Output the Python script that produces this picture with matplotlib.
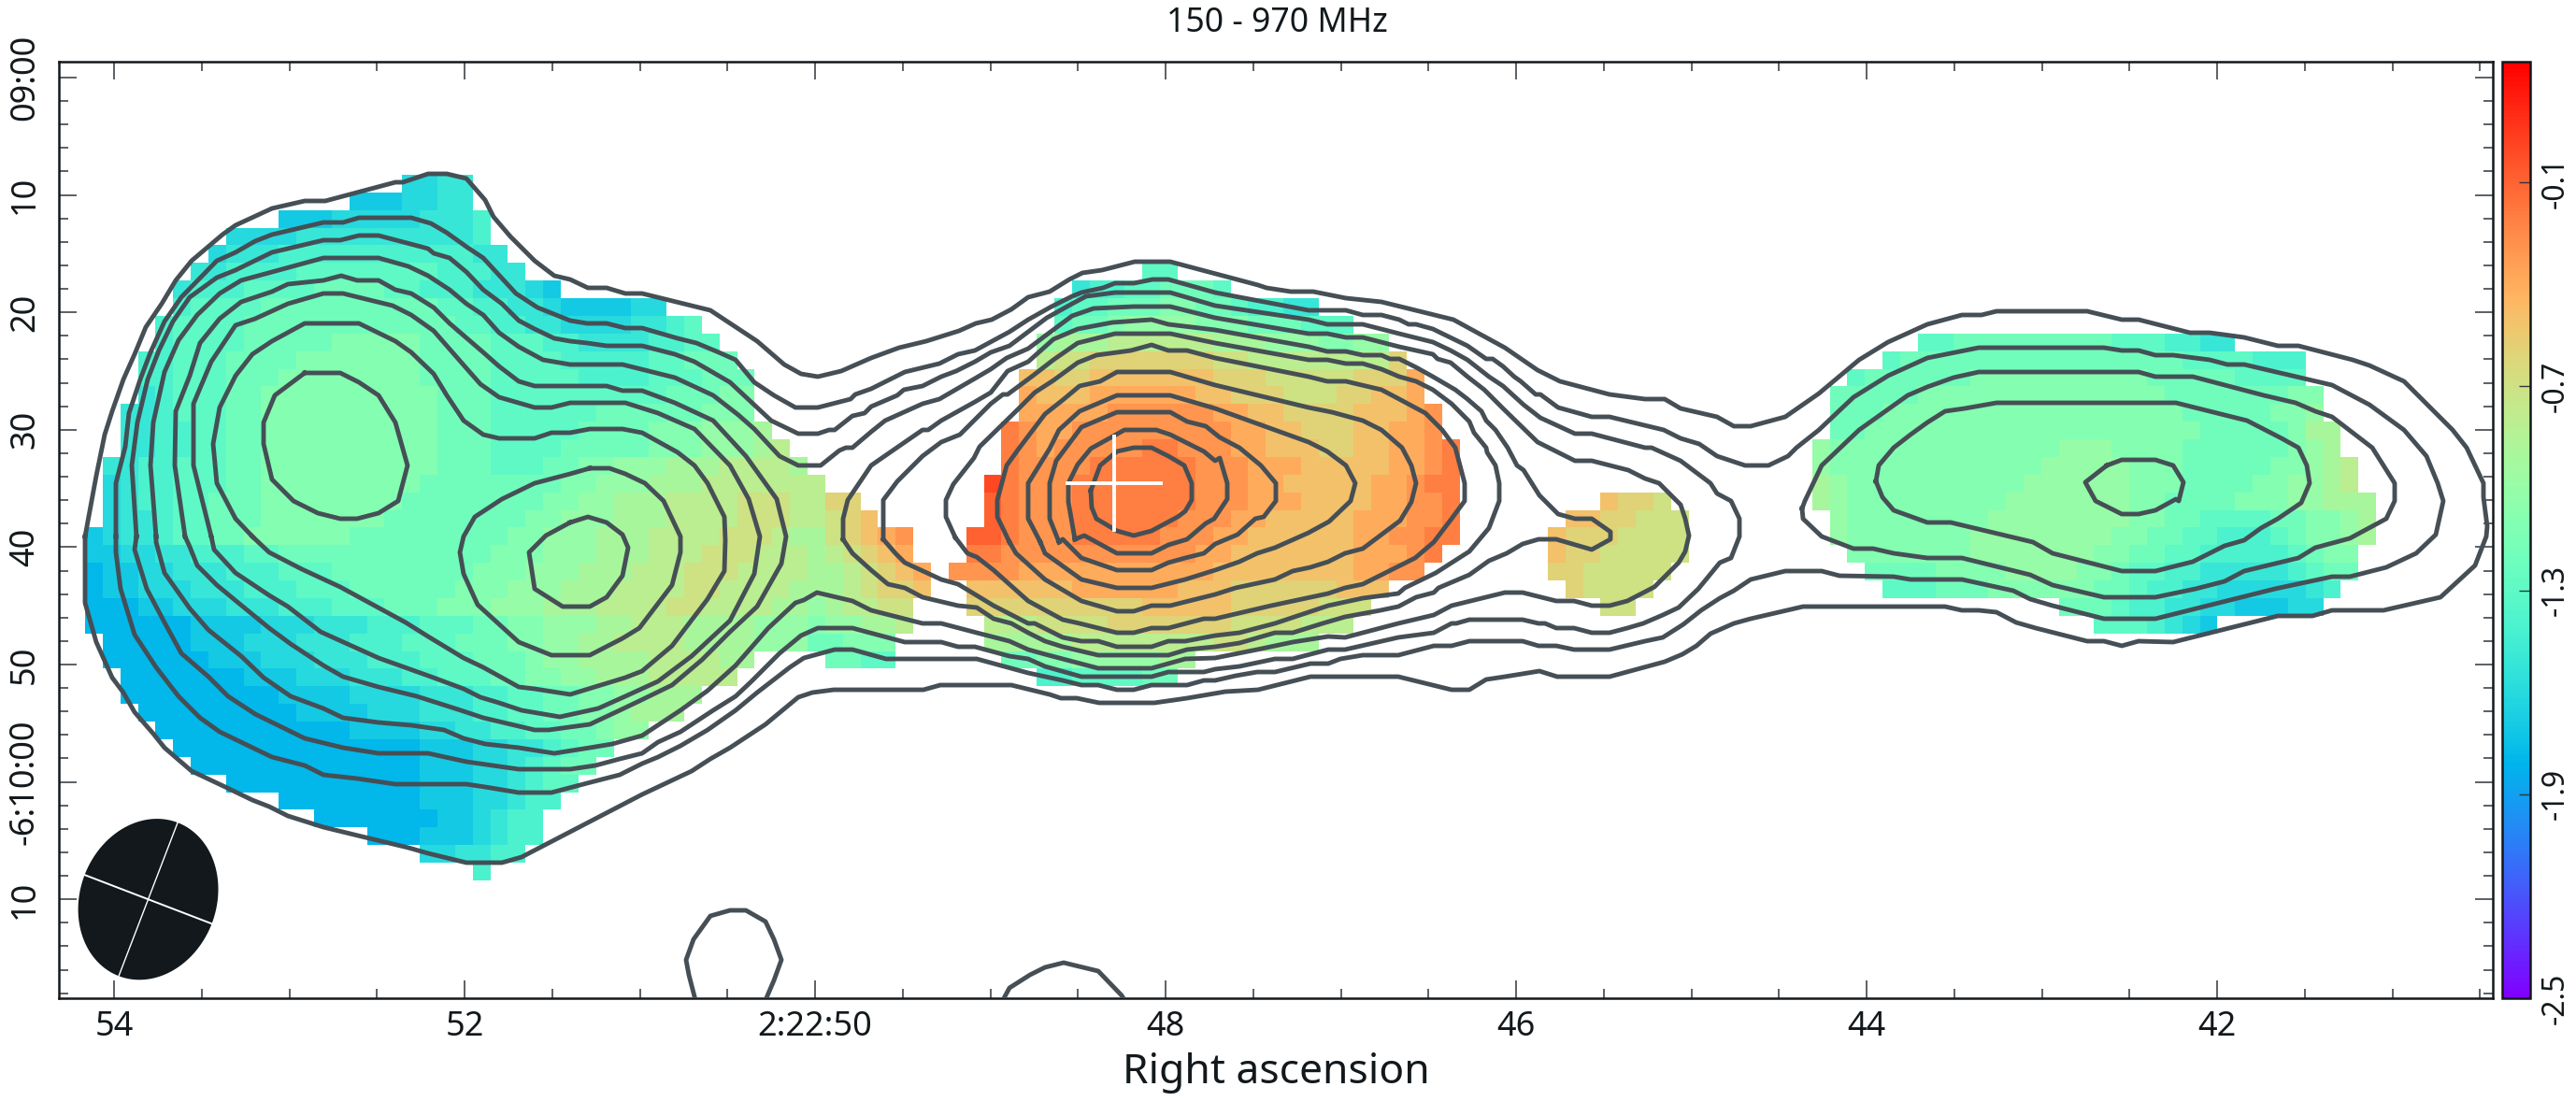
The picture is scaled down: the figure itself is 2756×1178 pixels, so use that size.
import matplotlib
matplotlib.use('Agg')
import matplotlib.pyplot as plt
from matplotlib.ticker import MultipleLocator, FixedLocator, FixedFormatter
import numpy as np

plt.rcParams['font.family'] = ['Noto Sans', 'DejaVu Sans']

# spectral index cells, one letter per cell: a = -1.8 ... s = 0.0, steps of 0.1
index_letters = 'abcdefghijklmnopqrs'
index_start = -1.8
index_step = 0.1

# (row, first column, letters)
left_lobe = [
    (0, 18, 'ccdd'),
    (1, 15, 'bbbccdd'),
    (2, 11, 'bbbcccccddde'),
    (3, 8, 'ccccdddddddddde'),
    (4, 7, 'cdddeeeeeeeeeeedd'),
    (5, 6, 'ddeeeeffffffffeeedd'),
    (6, 5, 'deeeffffggggffeeedddcb'),
    (7, 5, 'effffggggggggggffeeddcbbbbcc'),
    (8, 4, 'effffggggggggggggffeeddccccddef'),
    (9, 4, 'effffggggghhhhhggggfffeeddddeeff'),
    (10, 3, 'eefffgggghhhhhhhggggffffeeeeeffggg'),
    (11, 3, 'eefffggghhhhhhhhggggfffffeeeefffggg'),
    (12, 3, 'defffgghhhhhhhhhhgggffffffffffggghh'),
    (13, 2, 'ddefffgghhhhhhhhhhgggffffffgggggghhh'),
    (14, 2, 'ddeeffgghhhhhhhhhhgggfffffgggghhhiiij'),
    (15, 2, 'ddeeffgghhhhhhhhhhgggffffggggghhhiiijk'),
    (16, 1, 'ddeefffgghhhhhhhhhhgggfffgghhiiijjjkkkkj'),
    (17, 1, 'cdeefffgghhhhhhhhhgggggggghhiiijjjkkkkkkk'),
    (18, 1, 'cdeeffggghhhhhhhhgggggggghhiijjjkkkklllkkmm'),
    (19, 1, 'cddeffggghhhhhhhgggggggghhiiijjjkkkklllkklmn'),
    (20, 0, 'bcddeffgghhhhhhggggggggghhiiijjjkkkklllkjjlmnop'),
    (21, 0, 'bbccddeeeffgggggggggggghhhiiijjjkkklllkkkjklmno'),
    (22, 0, 'abbccdddeeefffgggggggghhhiiijjjkkklllkkkkjjklmno'),
    (23, 0, 'abbcccdddeeefffgggggghhhiiijjjkkkkllkkkkjjjklmmn'),
    (24, 0, 'aaabbcccdddeeefffggghhhiiijjjkkkkllkkkkjjijkkll'),
    (25, 0, 'aaaaaabbbbcccdddeeefffgghhiiijjkkkjjjjiiihiijjk'),
    (26, 1, 'aaaaabbbcccdddeeefffggghhiijjkkkkjjjjiiigghhh'),
    (27, 1, 'aaaaaabbbcccdddeeefffggghiijjjjkkkkjj'),
    (27, 42, 'ggff'),
    (28, 2, 'aaaaaaabbbcccdddeefffgghhiijjjkkkkk'),
    (29, 2, 'aaaaaaaaabbbbccccdddeeffgghhiijjj'),
    (30, 3, 'aaaaaaaaabbbbcccdddeeffgghhijjj'),
    (31, 4, 'aaaaaaaaaaabbbbccddeeffgghii'),
    (32, 5, 'aaaaaaaaaaaaaabbbccddefgg'),
    (33, 6, 'aaaaaaaaaaaaabbbccdefgg'),
    (34, 8, 'aaaaaaaaaaabbbccdeff'),
    (35, 11, 'aaaaaaaabbbccdee'),
    (36, 13, 'aaaaaaabbcdee'),
    (37, 16, 'aaabbbcdee'),
    (38, 19, 'ccddee'),
    (39, 22, 'e'),
]
middle_lobe = [
    (5, 60, 'ff'),
    (6, 56, 'deeffgggf'),
    (7, 55, 'effggghhggfeedd'),
    (8, 55, 'fgghiiiihhhgggfff'),
    (9, 54, 'ijjjkkkkkkjjjiiihhii'),
    (10, 54, 'kllmmmmmmmllkkkkkkkkm'),
    (11, 53, 'nnmmnnnnnnnmmmlllllmmmo'),
    (12, 53, 'onnnoooooonnmmmlllmmnno'),
    (13, 53, 'oooooppppppoonnmmmmnnnop'),
    (14, 52, 'qpoopppppppppoonnmmmnnoop'),
    (15, 52, 'qpopppppqqpppoonnnmmnnoopq'),
    (16, 52, 'qppppqqqqqqpppooonnnnnoopq'),
    (17, 51, 'sqpppqqqqqqqpppoonnnnnoopqq'),
    (18, 51, 'rqpppqqqqqqqpppooonnnnooppq'),
    (19, 51, 'rqpppqqqqqqpppoonnnnnoooppq'),
    (20, 50, 'rrqpppqqqqqpppoonnnnnnooppqq'),
    (21, 50, 'qqpppppppppppoonnnnnnnooopq'),
    (22, 49, 'ppppooooooooooonnnnnnnnoopp'),
    (23, 50, 'nnnnnnoooooonnnmmmmmmnnn'),
    (24, 50, 'mmmmmmmmmmnnnnnmmmmmlll'),
    (25, 51, 'kkkllllmmmmmmmllllkkk'),
    (26, 51, 'jjjjjkkkkkkkkllkjjj'),
    (27, 52, 'gghhiiiiijj'),
    (28, 54, 'eeffffgg'),
]
small_lobe = [
    (18, 86, 'nmml'),
    (19, 84, 'nnmmlll'),
    (20, 83, 'nmmmllll'),
    (21, 83, 'nmmlllll'),
    (22, 83, 'mmlllll'),
    (23, 84, 'mllll'),
    (24, 86, 'll'),
]
right_lobe = [
    (9, 104, 'ffgggggggggfffeedd'),
    (10, 102, 'fggggggggggggggggffffeee'),
    (11, 100, 'fgggggghhhhhhhhhhgggggffff'),
    (12, 99, 'ggggghhhhhhhhhhhhhhggggggghh'),
    (13, 99, 'ggghhhhhhhhhhhhhhhhhggggghhi'),
    (14, 99, 'gghhhhhhhhhhhhhhhhhhhggggghjj'),
    (15, 98, 'ihhhhhhhhhhhhhiiihhhhgggggghij'),
    (16, 98, 'ihhhhhhhhhhhhiiiiihhhggggghhijk'),
    (17, 98, 'jihhhhhhhhhhiiiiiihhhgggghhiijk'),
    (18, 98, 'jihhhhhhhhhiiiiiiihhgggghhhiijjj'),
    (19, 99, 'ihhhhhhhhiiiiiiiihhggffffgghhij'),
    (20, 99, 'ihhhhhhhiiiiiiiihhggffeeefghhij'),
    (21, 100, 'hhhhhhhiiiiiiihhggffeeeeefghh'),
    (22, 101, 'gggghhhhiiiihhgffeedddddefgg'),
    (23, 102, 'fffggghhhhhhggfeeddcccccde'),
    (24, 112, 'gggfeeddccbbbcc'),
    (25, 114, 'fffedcb'),
]

outer_1 = [(91,574),(103,509),(112,465),(120,440),(132,406),(144,379),(156,350),(173,325),(188,300),(205,279),(238,251),(252,241),(291,223),(326,215),(348,215),(423,195),(431,195),(458,186),(478,186),(499,191),(519,214),(528,232),(546,253),(572,279),(593,295),(610,299),(629,308),(649,308),(669,314),(687,314),(760,332),(810,365),(839,390),(857,400),(875,403),(900,397),(932,383),(962,372),(991,365),(1026,354),(1044,346),(1061,342),(1082,331),(1100,318),(1123,312),(1144,299),(1158,292),(1179,289),(1214,280),(1252,280),(1346,305),(1355,308),(1381,312),(1405,312),(1440,319),(1478,323),(1555,342),(1610,372),(1645,396),(1669,408),(1722,422),(1760,427),(1781,427),(1798,437),(1837,446),(1855,456),(1873,456),(1910,446),(1946,421),(1989,385),(2020,366),(2062,347),(2099,337),(2120,337),(2136,333),(2233,333),(2270,342),(2288,342),(2343,356),(2364,356),(2401,361),(2437,370),(2459,370),(2517,385),(2535,391),(2572,408),(2624,460),(2639,479),(2657,517),(2657,532),(2661,563),(2660,574),(2648,605),(2611,639),(2550,653),(2495,653),(2474,659),(2437,659),(2325,687),(2288,686),(2270,691),(2251,686),(2233,686),(2178,672),(2157,666),(2136,655),(2117,653),(2099,653),(2081,649),(1929,649),(1873,662),(1855,667),(1830,678),(1815,691),(1800,700),(1781,708),(1722,724),(1666,724),(1647,718),(1610,724),(1590,727),(1572,738),(1553,738),(1496,724),(1402,724),(1346,738),(1311,740),(1270,747),(1235,752),(1176,752),(1152,747),(1135,747),(1123,743),(1082,733),(1006,733),(988,738),(892,738),(869,741),(854,746),(819,775),(781,800),(760,812),(740,825),(687,850),(558,917),(537,923),(499,923),(458,913),(437,907),(387,895),(346,885),(308,873),(288,863),(270,856),(241,842),(205,825),(176,800),(164,785),(144,762),(132,741),(120,725),(103,687),(91,645)]
outer_2 = [(124,574),(124,517),(134,478),(138,442),(150,406),(161,377),(176,344),(194,318),(232,279),(252,270),(273,258),(291,251),(346,238),(367,238),(384,233),(440,233),(461,239),(478,249),(499,264),(517,276),(552,314),(575,329),(610,343),(628,346),(649,346),(669,351),(687,351),(725,362),(745,367),(769,377),(787,385),(807,409),(828,423),(851,436),(875,436),(910,427),(915,422),(932,416),(968,398),(1005,389),(1025,379),(1043,375),(1080,355),(1100,342),(1125,328),(1147,317),(1157,313),(1180,308),(1193,303),(1213,303),(1233,299),(1250,299),(1300,313),(1400,332),(1440,332),(1458,337),(1478,337),(1497,342),(1507,347),(1515,347),(1533,352),(1570,370),(1590,384),(1597,384),(1608,392),(1620,403),(1627,408),(1643,422),(1648,422),(1667,436),(1703,446),(1722,446),(1780,460),(1798,469),(1818,475),(1837,488),(1867,498),(1892,498),(1913,488),(1922,479),(1946,460),(1983,425),(2020,402),(2062,383),(2117,372),(2251,372),(2270,375),(2288,375),(2306,380),(2325,380),(2364,385),(2383,390),(2401,390),(2495,412),(2535,433),(2572,460),(2596,488),(2608,517),(2614,536),(2606,572),(2585,592),(2553,607),(2514,617),(2495,617),(2434,630),(2306,662),(2251,662),(2196,648),(2172,641),(2154,632),(2099,620),(2044,620),(2026,617),(1968,616),(1949,611),(1910,611),(1873,620),(1855,632),(1840,640),(1820,653),(1801,668),(1779,682),(1760,686),(1722,695),(1684,695),(1665,691),(1646,691),(1629,686),(1572,686),(1553,691),(1534,691),(1496,701),(1458,701),(1434,705),(1421,710),(1402,710),(1364,719),(1345,719),(1322,723),(1300,728),(1288,728),(1270,733),(1232,733),(1213,738),(1195,738),(1175,733),(1157,733),(1137,728),(1100,720),(1045,705),(948,705),(912,695),(893,695),(860,704),(845,714),(810,741),(787,760),(757,781),(728,798),(704,810),(687,817),(663,829),(628,838),(590,848),(555,848),(519,842),(499,839),(423,839),(382,833),(346,829),(326,819),(291,810),(235,783),(214,768),(191,745),(167,714),(144,679),(129,630),(124,591)]
outer_3 = [(146,574),(141,498),(147,452),(158,406),(170,375),(185,344),(203,318),(232,297),(252,289),(291,270),(346,257),(364,257),(384,252),(405,252),(458,266),(464,271),(481,276),(499,291),(517,310),(537,325),(555,343),(572,352),(593,362),(610,365),(628,367),(649,370),(687,370),(722,379),(743,387),(781,409),(825,450),(854,464),(875,464),(887,460),(893,460),(912,445),(925,442),(932,435),(960,423),(967,417),(987,413),(1007,403),(1023,397),(1043,387),(1060,377),(1080,370),(1100,355),(1120,340),(1147,325),(1162,317),(1193,313),(1252,313),(1300,327),(1400,342),(1420,347),(1458,347),(1497,357),(1533,366),(1552,375),(1570,385),(1593,403),(1608,413),(1630,433),(1648,447),(1685,464),(1703,464),(1760,479),(1767,479),(1798,493),(1830,517),(1837,528),(1852,536),(1861,555),(1861,574),(1852,597),(1840,602),(1817,630),(1796,650),(1779,658),(1758,667),(1741,672),(1722,677),(1703,677),(1684,672),(1665,672),(1653,667),(1646,667),(1629,663),(1572,663),(1558,667),(1553,667),(1534,677),(1496,682),(1439,695),(1421,695),(1383,705),(1364,705),(1326,713),(1300,716),(1288,719),(1250,719),(1232,724),(1157,724),(1118,713),(1100,705),(1080,702),(1043,692),(1025,692),(1007,687),(968,687),(912,672),(875,672),(857,680),(834,699),(804,729),(787,745),(763,760),(728,783),(704,794),(687,806),(663,812),(637,819),(610,823),(555,823),(499,815),(458,806),(405,806),(367,800),(326,790),(273,764),(244,745),(223,724),(194,699),(176,666),(157,630),(144,588)]
outer_4 = [(167,574),(161,498),(164,452),(176,398),(191,364),(211,337),(235,314),(258,300),(291,291),(346,276),(405,276),(437,285),(458,295),(481,310),(499,325),(517,337),(534,356),(555,371),(581,385),(610,390),(666,390),(722,404),(763,423),(790,444),(807,459),(834,488),(854,498),(878,498),(898,482),(905,479),(912,479),(932,462),(947,450),(987,432),(1005,427),(1043,405),(1060,395),(1077,383),(1100,373),(1120,358),(1147,338),(1170,330),(1213,328),(1252,328),(1300,340),(1400,357),(1420,357),(1440,361),(1458,361),(1497,371),(1533,379),(1538,384),(1552,388),(1570,403),(1588,417),(1608,437),(1645,473),(1685,493),(1703,493),(1742,503),(1760,512),(1775,517),(1798,540),(1803,555),(1807,573),(1803,590),(1796,602),(1770,628),(1741,643),(1722,648),(1703,648),(1684,643),(1665,643),(1629,634),(1610,634),(1553,648),(1534,658),(1496,667),(1439,682),(1421,681),(1383,687),(1345,695),(1300,704),(1268,705),(1250,710),(1232,715),(1175,715),(1137,705),(1118,700),(1100,695),(1080,686),(1045,677),(1007,667),(987,667),(932,653),(912,643),(874,634),(860,642),(851,645),(822,672),(787,712),(757,739),(728,760),(687,787),(655,796),(631,800),(593,806),(555,800),(519,796),(496,790),(475,781),(440,776),(405,773),(367,768),(346,758),(311,745),(282,725),(258,702),(223,674),(203,651),(176,613),(167,580)]
west_5 = [(198,574),(187,498),(188,440),(203,402),(214,367),(235,341),(258,323),(291,312),(308,304),(346,300),(365,295),(382,300),(405,300),(423,310),(440,314),(464,329),(481,346),(517,377),(534,392),(555,408),(572,413),(649,413),(666,418),(687,418),(722,431),(763,450),(798,488),(831,534),(841,574),(836,603),(810,649),(781,676),(751,706),(719,733),(684,750),(663,760),(631,775),(587,781),(572,781),(517,768),(493,760),(446,745),(405,735),(367,724),(346,712),(311,689),(288,672),(255,645),(232,626),(211,605),(203,585)]
west_6 = [(226,574),(207,498),(207,432),(226,387),(252,348),(273,341),(308,325),(346,314),(367,314),(420,327),(440,337),(464,354),(499,394),(514,411),(534,425),(572,436),(590,436),(610,431),(669,431),(704,442),(743,459),(781,498),(801,534),(813,574),(807,614),(781,664),(740,702),(704,729),(669,745),(640,758),(599,767),(558,760),(534,752),(514,746),(496,737),(461,724),(405,704),(343,676),(308,649),(288,637),(252,613),(229,588)]
west_7 = [(270,574),(252,555),(232,517),(228,475),(235,436),(252,402),(270,379),(291,365),(326,346),(384,346),(423,365),(440,377),(464,400),(478,423),(496,450),(517,465),(534,469),(572,469),(590,463),(610,463),(631,459),(666,459),(687,463),(725,484),(743,498),(757,517),(775,553),(776,578),(775,611),(757,641),(719,691),(687,718),(669,725),(610,743),(572,737),(555,735),(517,714),(496,704),(458,681),(434,666),(364,628),(323,609),(288,591)]
west_8a = [(326,399),(364,399),(384,409),(405,423),(423,452),(436,498),(426,536),(405,549),(382,555),(364,555),(340,549),(314,536),(291,513),(282,475),(282,452),(294,423)]
west_8b = [(631,501),(652,501),(669,507),(690,517),(710,536),(728,574),(728,591),(719,626),(684,672),(666,683),(631,701),(590,701),(555,687),(511,647),(496,614),(492,591),(496,574),(508,553),(537,534),(572,517),(610,507)]
west_9 = [(610,559),(629,553),(649,559),(666,572),(672,586),(666,616),(649,639),(631,649),(602,649),(572,630),(566,591),(584,573)]
mid_5 = [(902,577),(902,555),(907,535),(932,498),(958,480),(987,460),(993,460),(1007,450),(1043,430),(1060,420),(1078,397),(1100,387),(1127,363),(1153,352),(1190,345),(1232,342),(1250,347),(1300,353),(1400,371),(1420,376),(1440,376),(1458,380),(1478,380),(1487,384),(1497,384),(1515,393),(1533,403),(1557,417),(1570,427),(1585,440),(1590,450),(1600,460),(1613,479),(1623,498),(1630,503),(1647,530),(1667,550),(1685,555),(1703,555),(1723,569),(1723,577),(1703,588),(1665,577),(1646,577),(1629,582),(1612,592),(1593,600),(1572,615),(1539,629),(1534,634),(1515,639),(1496,649),(1477,653),(1439,660),(1415,667),(1383,677),(1364,677),(1326,688),(1300,692),(1270,695),(1250,701),(1175,701),(1137,692),(1118,686),(1100,677),(1082,667),(1063,662),(1045,650),(1025,648),(987,639),(968,629),(950,625),(932,610),(912,592)]
mid_6 = [(945,577),(945,535),(960,515),(987,488),(1007,473),(1027,465),(1060,432),(1073,422),(1078,422),(1105,402),(1127,385),(1153,367),(1193,357),(1233,357),(1252,357),(1300,367),(1400,385),(1420,385),(1440,389),(1458,389),(1478,395),(1497,403),(1515,408),(1533,417),(1553,432),(1572,451),(1577,463),(1590,479),(1591,484),(1600,498),(1604,517),(1604,536),(1593,565),(1572,590),(1536,613),(1503,629),(1496,635),(1458,640),(1421,648),(1364,667),(1326,677),(1300,680),(1268,686),(1250,686),(1232,692),(1195,692),(1175,686),(1157,686),(1137,682),(1107,667),(1100,667),(1063,648),(1025,625),(1007,620),(968,602),(958,592)]
mid_7 = [(1022,575),(1012,553),(1012,535),(1020,518),(1042,490),(1048,478),(1090,437),(1107,420),(1127,407),(1153,388),(1173,380),(1210,375),(1232,369),(1250,375),(1270,375),(1300,383),(1400,403),(1420,408),(1440,408),(1478,417),(1497,427),(1525,442),(1543,460),(1557,479),(1567,517),(1567,536),(1553,555),(1534,580),(1514,597),(1458,625),(1439,629),(1421,635),(1360,648),(1300,662),(1288,662),(1250,672),(1232,672),(1213,677),(1195,677),(1155,667),(1137,663),(1100,643),(1063,610),(1045,596),(1035,592)]
mid_8 = [(1080,580),(1067,553),(1067,535),(1077,498),(1090,480),(1118,443),(1137,428),(1155,413),(1177,408),(1195,398),(1252,398),(1300,412),(1400,436),(1425,441),(1458,450),(1478,460),(1500,479),(1510,498),(1515,517),(1510,537),(1498,557),(1458,587),(1439,592),(1421,601),(1402,607),(1383,611),(1364,620),(1322,629),(1300,636),(1252,648),(1232,648),(1213,654),(1195,654),(1157,643),(1118,620),(1087,592)]
mid_9 = [(1113,580),(1100,555),(1100,517),(1123,480),(1133,460),(1155,440),(1195,423),(1252,423),(1300,437),(1400,473),(1420,483),(1440,498),(1450,517),(1445,536),(1422,558),(1400,570),(1364,586),(1345,592),(1326,601),(1300,610),(1268,620),(1232,629),(1195,629),(1157,620),(1118,592)]
mid_10 = [(1133,580),(1123,555),(1123,517),(1130,493),(1157,457),(1195,441),(1252,441),(1270,451),(1290,456),(1305,468),(1326,479),(1349,498),(1365,517),(1365,536),(1352,553),(1343,555),(1324,572),(1300,582),(1288,592),(1268,597),(1250,602),(1232,610),(1195,610),(1157,597),(1137,577)]
mid_11 = [(1150,577),(1143,537),(1143,517),(1153,497),(1167,480),(1203,460),(1237,460),(1252,465),(1288,483),(1300,493),(1305,490),(1313,517),(1313,534),(1299,555),(1290,560),(1270,577),(1250,583),(1232,592),(1195,592),(1160,573)]
mid_12 = [(1167,525),(1177,498),(1195,483),(1213,479),(1232,479),(1250,488),(1267,498),(1275,517),(1275,535),(1268,547),(1260,553),(1232,568),(1213,573),(1195,568),(1173,555),(1168,543)]
east_3 = [(1928,544),(1931,536),(1949,498),(1989,460),(2041,423),(2062,414),(2090,404),(2117,398),(2288,398),(2306,403),(2346,403),(2422,423),(2456,431),(2477,440),(2495,446),(2538,479),(2562,517),(2562,536),(2553,555),(2514,576),(2477,586),(2459,597),(2401,611),(2380,622),(2349,630),(2306,639),(2251,639),(2196,626),(2172,615),(2099,597),(2062,597),(2026,592),(2004,587),(1983,587),(1949,574),(1929,555)]
east_4 = [(2007,515),(2010,498),(2026,479),(2044,465),(2062,452),(2081,440),(2102,437),(2136,431),(2328,431),(2364,440),(2404,450),(2441,469),(2459,479),(2468,498),(2471,517),(2462,538),(2437,555),(2419,565),(2401,578),(2380,584),(2346,601),(2306,611),(2270,611),(2196,592),(2175,580),(2087,559),(2062,559),(2026,546),(2014,532)]
east_5 = [(2254,498),(2270,492),(2306,492),(2325,498),(2336,516),(2331,536),(2328,534),(2306,546),(2288,550),(2270,550),(2242,536),(2231,516)]
south_a = [(744,1070),(737,1043),(734,1027),(742,1005),(760,980),(781,974),(798,974),(819,986),(828,1005),(836,1027),(828,1049),(819,1070)]
south_b = [(1073,1070),(1080,1057),(1102,1043),(1118,1035),(1138,1030),(1175,1039),(1200,1065),(1203,1070)]

closed_contours = [outer_1, outer_2, outer_3, outer_4, west_5, west_6, west_7, west_8a, west_8b, west_9,
                   mid_5, mid_6, mid_7, mid_8, mid_9, mid_10, mid_11, mid_12, east_3, east_4, east_5]
open_contours = [south_a, south_b]

ra_ticks = [54, 52, 50, 48, 46, 44, 42]
ra_labels = ['54', '52', '2:22:50', '48', '46', '44', '42']
dec_ticks = [0, 10, 20, 30, 40, 50, 60, 70]
dec_labels = ['09:00', '10', '20', '30', '40', '50', '-6:10:00', '10']
cbar_ticks = [-2.5, -1.9, -1.3, -0.7, -0.1]
cbar_labels = ['-2.5', '-1.9', '-1.3', '-0.7', '-0.1']

# beam: centre, axes in arcsec, position angle in degrees
beam_ra, beam_dec = 53.805, 70.0
beam_major, beam_minor, beam_pa = 14.0, 11.6, -21.0
# core marker
core_ra, core_dec = 48.293, 34.55

ink = '#12181b'
line_col = '#454f55'
W, H = 2756, 1178


def plate_ra(x):
    return 54 - (np.asarray(x, float) - 122) / 187.5


def plate_dec(y):
    return (np.asarray(y, float) - 83) / 12.56


# grid of the map
n_rows, n_cols = 40, 131
grid = np.full((n_rows, n_cols), np.nan)
for part in (left_lobe, middle_lobe, small_lobe, right_lobe):
    for row, col, letters in part:
        for i, ch in enumerate(letters):
            grid[row, col + i] = index_start + index_step * index_letters.index(ch)

fig = plt.figure(figsize=(W / 200, H / 200), dpi=200)
ax = fig.add_axes([63 / W, 1 - 1068 / H, (2667 - 63) / W, (1068 - 66) / H])
cax = fig.add_axes([2677 / W, 1 - 1068 / H, 30 / W, (1068 - 66) / H])

cell = 18.85
extent = (plate_ra(91), plate_ra(91 + cell * n_cols), plate_dec(187.5 + cell * n_rows), plate_dec(187.5))
im = ax.imshow(grid, cmap='rainbow', vmin=-2.5, vmax=0.255, extent=extent, aspect='auto',
               interpolation='nearest', zorder=1)

for trace in closed_contours:
    xs, ys = zip(*(trace + trace[:1]))
    ax.plot(plate_ra(xs), plate_dec(ys), color=line_col, lw=1.75, solid_joinstyle='round', zorder=3)
for trace in open_contours:
    xs, ys = zip(*trace)
    ax.plot(plate_ra(xs), plate_dec(ys), color=line_col, lw=1.75, solid_joinstyle='round', zorder=3)

# beam
t = np.linspace(0, 2 * np.pi, 200)
pa = np.radians(beam_pa)
arcsec_to_s = 12.56 / 187.5


def beam_xy(a, b):
    north = a * np.cos(pa) - b * np.sin(pa)
    east = a * np.sin(pa) + b * np.cos(pa)
    return beam_ra + east * arcsec_to_s, beam_dec - north


ex, ey = beam_xy(beam_major / 2 * np.cos(t), beam_minor / 2 * np.sin(t))
ax.fill(ex, ey, color=ink, lw=0, zorder=4)
mx, my = beam_xy(np.array([-beam_major / 2, beam_major / 2]), np.zeros(2))
ax.plot(mx, my, color='white', lw=0.5, zorder=5)
nx, ny = beam_xy(np.zeros(2), np.array([-beam_minor / 2, beam_minor / 2]))
ax.plot(nx, ny, color='white', lw=0.7, zorder=5)

# core cross
ax.plot([core_ra, core_ra], [core_dec - 4, core_dec + 4], color='white', lw=1.4, zorder=5)
ax.plot([core_ra - 0.267, core_ra + 0.267], [core_dec, core_dec], color='white', lw=1.4, zorder=5)

ax.set_xlim(plate_ra(63), plate_ra(2667))
ax.set_ylim(plate_dec(1068), plate_dec(66))

ax.xaxis.set_major_locator(FixedLocator(ra_ticks))
ax.xaxis.set_major_formatter(FixedFormatter(ra_labels))
ax.xaxis.set_minor_locator(MultipleLocator(0.5))
ax.yaxis.set_major_locator(FixedLocator(dec_ticks))
ax.yaxis.set_major_formatter(FixedFormatter(dec_labels))
ax.yaxis.set_minor_locator(MultipleLocator(2))
ax.tick_params(which='major', direction='in', top=True, right=True, length=7, width=0.55, color='#2f363b',
               labelsize=13, labelcolor=ink)
ax.tick_params(which='minor', direction='in', top=True, right=True, length=3.6, width=0.55, color='#2f363b')
ax.tick_params(axis='x', which='major', pad=4.5)
ax.tick_params(axis='y', which='major', pad=6.5)
for lab in ax.get_yticklabels():
    lab.set_rotation(90)
    lab.set_va('center')
for s in ax.spines.values():
    s.set_linewidth(0.9)
    s.set_color(ink)

ax.set_xlabel('Right ascension', fontsize=16, color=ink, labelpad=3.5)
fig.text(1366 / W, 1 - 25 / H, '150 - 970 MHz', fontsize=12.8, color=ink, ha='center', va='center')

cb = fig.colorbar(im, cax=cax)
cb.set_ticks(cbar_ticks)
cb.set_ticklabels(cbar_labels)
cax.tick_params(direction='in', length=4.3, width=0.5, color='#2f363b', labelsize=11.5, labelcolor=ink, pad=4)
for lab in cax.get_yticklabels():
    lab.set_rotation(90)
    lab.set_va('center')
cb.outline.set_linewidth(0.9)
cb.outline.set_edgecolor(ink)

fig.savefig('out.png', dpi=200)
